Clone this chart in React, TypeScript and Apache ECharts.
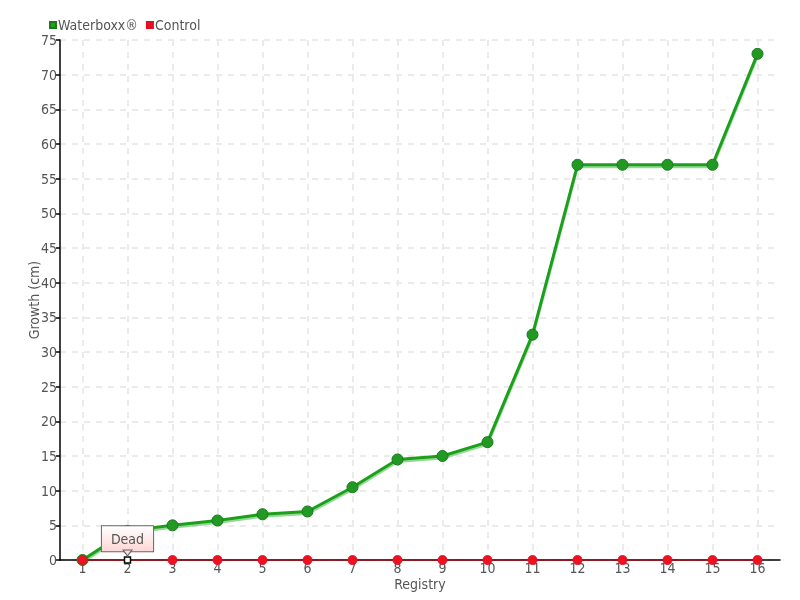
import React, { useEffect, useRef } from "react";
import * as echarts from "echarts";

const categories = ["1", "2", "3", "4", "5", "6", "7", "8", "9", "10", "11", "12", "13", "14", "15", "16"];
const waterboxx = [0, 4.2, 5, 5.7, 6.6, 7, 10.5, 14.5, 15, 17, 32.5, 57, 57, 57, 57, 73];
const control = [0, 0, 0, 0, 0, 0, 0, 0, 0, 0, 0, 0, 0, 0, 0, 0];
const deadIndex = 1;
const deadLabel = "Dead";

const FONT = "'DejaVu Sans Condensed', 'DejaVu Sans', sans-serif";
const FS = 14;
const TXT = "#555555";

export default function App() {
  const ref = useRef<HTMLDivElement>(null);
  useEffect(() => {
    if (!ref.current) return;
    const chart = echarts.init(ref.current, undefined, { renderer: "svg" });
    const controlData = control.map((v, i) =>
      i === deadIndex
        ? {
            value: v,
            symbol: "rect",
            symbolSize: 6,
            itemStyle: { color: "#ffffff", borderColor: "#000000", borderWidth: 1.5 },
            label: {
              show: true,
              position: "top",
              distance: 5,
              formatter: deadLabel,
              color: TXT,
              fontSize: FS,
              fontFamily: FONT,
              padding: [6, 9, 5, 9],
              borderColor: "#666666",
              borderWidth: 1,
              backgroundColor: new echarts.graphic.LinearGradient(0, 0, 0, 1, [
                { offset: 0, color: "#ffffff" },
                { offset: 1, color: "#ffd6d6" },
              ]),
            },
          }
        : v
    );
    chart.setOption({
      animation: false,
      textStyle: { fontFamily: FONT },
      legend: {
        left: 44,
        top: 13,
        itemWidth: 6,
        itemHeight: 6,
        itemGap: 8,
        icon: "rect",
        textStyle: { color: TXT, fontSize: FS, fontFamily: FONT, padding: [0, 0, 0, -3] },
        data: [
          { name: "Waterboxx®", itemStyle: { color: "#22a022" } },
          { name: "Control", itemStyle: { color: "#ee1122" } },
        ],
      },
      grid: { left: 60, right: 20, top: 40, bottom: 40, containLabel: false },
      xAxis: {
        type: "category",
        data: categories,
        boundaryGap: true,
        name: "Registry",
        nameLocation: "middle",
        nameGap: 17,
        nameMoveOverlap: false,
        nameTextStyle: { color: TXT, fontSize: FS, fontFamily: FONT },
        axisLine: { show: true, lineStyle: { color: "#000000", width: 1.5 } },
        axisTick: { show: false },
        axisLabel: { color: TXT, fontSize: FS, margin: 1, fontFamily: FONT },
        splitLine: {
          show: true,
          alignWithLabel: true,
          lineStyle: { color: "#ebebeb", type: [6, 6], width: 2 },
        },
      },
      yAxis: {
        type: "value",
        min: 0,
        max: 75,
        interval: 5,
        name: "Growth (cm)",
        nameLocation: "middle",
        nameGap: 19,
        nameMoveOverlap: false,
        nameTextStyle: { color: TXT, fontSize: FS, fontFamily: FONT },
        axisLine: { show: true, lineStyle: { color: "#000000", width: 1.5 } },
        axisTick: { show: true, length: 4, lineStyle: { color: "#000000", width: 1.5 } },
        axisLabel: { color: TXT, fontSize: FS, margin: 3, fontFamily: FONT },
        splitLine: { show: true, lineStyle: { color: "#ebebeb", type: [6, 6], width: 2 } },
      },
      series: [
        {
          name: "Control",
          type: "line",
          data: controlData,
          symbol: "circle",
          symbolSize: 9,
          showAllSymbol: true,
          lineStyle: { color: "#cc0011", width: 1.5 },
          itemStyle: { color: "#ee1122", borderColor: "#dd1122", borderWidth: 1 },
          z: 2,
          markPoint: {
            symbol: "triangle",
            symbolSize: [9, 6],
            symbolRotate: 180,
            symbolOffset: [0, -7],
            silent: true,
            label: { show: false },
            itemStyle: { color: "#ffd8d8", borderColor: "#666666", borderWidth: 1 },
            data: [{ coord: [deadIndex, control[deadIndex]] }],
          },
        },
        {
          name: "Waterboxx®",
          type: "line",
          data: waterboxx,
          symbol: "circle",
          symbolSize: 11,
          showAllSymbol: true,
          lineStyle: {
            color: "#1aa01a",
            width: 3,
            shadowColor: "rgba(80,190,80,0.6)",
            shadowOffsetY: 2,
            shadowBlur: 1,
          },
          itemStyle: { color: "#229922", borderColor: "#1a7a1a", borderWidth: 1 },
          z: 1,
        },
      ],
    });
    return () => chart.dispose();
  }, []);
  return <div ref={ref} style={{ position: "fixed", left: 0, top: 0, width: 800, height: 600 }} />;
}
